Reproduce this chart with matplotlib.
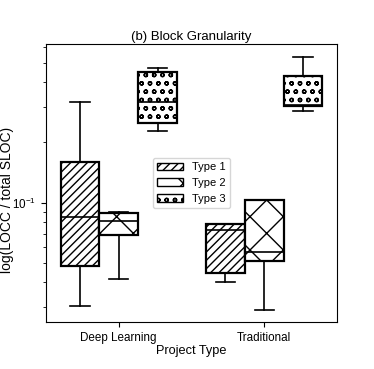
import matplotlib
matplotlib.use("Agg")
import matplotlib.pyplot as plt
from matplotlib.patches import Patch

plt.rcParams['font.family'] = ['Liberation Sans', 'DejaVu Sans']
plt.rcParams['hatch.linewidth'] = 1.0

categories = ["Deep Learning", "Traditional"]
types = ["Type 1", "Type 2", "Type 3"]
hatches = ["////", "x", "oo"]

# per category, per type: (whislo, q1, median, q3, whishi)
whislo = [[0.0305, 0.0415, 0.228], [0.0401, 0.0291, 0.288]]
q1 = [[0.0483, 0.0687, 0.249], [0.0445, 0.0511, 0.304]]
med = [[0.0845, 0.0813, 0.318], [0.0731, 0.0567, 0.306]]
q3 = [[0.160, 0.0888, 0.447], [0.078, 0.1028, 0.430]]
whishi = [[0.318, 0.0895, 0.473], [0.078, 0.1028, 0.537]]

fig = plt.figure(figsize=(3.74, 3.69), dpi=100)
ax = fig.add_axes([0.123, 0.127, 0.778, 0.754])

w = 0.8 / 3
for ci, cat in enumerate(categories):
    for ti in range(3):
        pos = ci + (ti - 1) * w
        st = dict(whislo=whislo[ci][ti], q1=q1[ci][ti], med=med[ci][ti],
                  q3=q3[ci][ti], whishi=whishi[ci][ti], fliers=[])
        res = ax.bxp([st], positions=[pos], widths=[w], patch_artist=True,
                     showfliers=False, manage_ticks=False,
                     boxprops=dict(facecolor='white', edgecolor='black', linewidth=1.6, hatch=hatches[ti]),
                     medianprops=dict(color='black', linewidth=1.2),
                     whiskerprops=dict(color='black', linewidth=1.2),
                     capprops=dict(color='black', linewidth=1.2))
        for c in res['caps']:
            c.set_xdata([pos - w / 4, pos + w / 4])

ax.set_yscale('log')
ax.set_ylim(0.0253, 0.621)
ax.set_xlim(-0.5, 1.5)
ax.set_xticks(range(len(categories)))
ax.set_xticklabels(categories, fontsize=8.4)
ax.tick_params(axis='y', labelsize=8.4)
ax.set_xlabel("Project Type", fontsize=9.2, labelpad=1)
ax.set_ylabel("log(LOCC / total SLOC)", fontsize=10)
ax.yaxis.set_label_coords(-0.11, 0.44)
ax.set_title("(b) Block Granularity", fontsize=9.5, pad=3)

handles = [Patch(facecolor='white', edgecolor='black', hatch=h, label=t) for h, t in zip(hatches, types)]
ax.legend(handles=handles, loc='center', fontsize=8, handlelength=2.3)

fig.savefig("out.png", dpi=100)
